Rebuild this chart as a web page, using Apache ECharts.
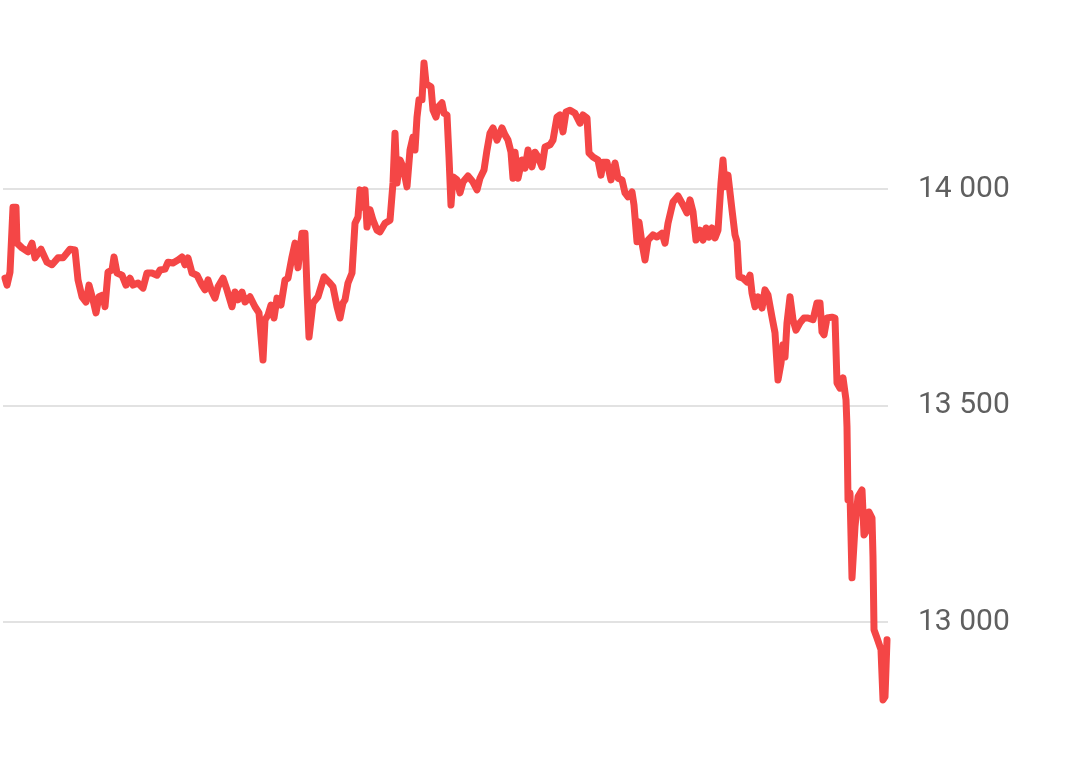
<!DOCTYPE html>
<html>
<head>
<meta charset="utf-8">
<script src="https://cdn.jsdelivr.net/npm/echarts@6/dist/echarts.min.js"></script>
<style>
  html, body { margin: 0; padding: 0; background: #fff; }
  #myChart { width: 1080px; height: 772px; }
</style>
</head>
<body>
<div id="myChart"></div>
<script>
// time index of each sample
let t = [5,7,10,13,16,17,22,28,32,35,41,47,52,58,63,70,75,78,82,86,89,93,96,99,103,105,108,112,114,117,122,126,130,133,138,143,147,152,157,160,165,168,173,178,182,185,188,192,197,202,205,208,212,215,218,223,227,232,235,238,242,245,250,255,259,263,265,268,271,274,277,281,285,288,292,295,298,302,305,307,309,313,318,324,329,333,337,340,343,345,348,352,355,358,360,363,365,367,370,373,377,380,385,390,393,395,397,400,403,407,410,413,415,417,419,422,424,426,428,431,433,436,438,442,444,447,449,451,453,457,460,463,468,473,477,480,484,487,490,493,497,502,505,508,511,513,515,518,522,525,528,532,535,538,542,545,550,553,557,560,563,566,570,575,580,583,587,589,593,598,601,603,607,611,615,618,622,625,628,632,634,637,639,642,645,648,653,657,662,665,668,673,678,680,683,687,690,693,696,700,703,706,709,712,715,718,721,723,725,728,732,735,737,739,743,747,750,752,755,758,762,765,768,772,775,778,781,783,785,787,790,793,796,800,804,808,813,817,820,822,824,827,832,835,837,840,843,846,847,848,850,852,855,858,862,864,867,869,872,873,874,877,881,883,885,887];
// index level
let price = [13794,13778,13808,13958,13958,13875,13864,13855,13875,13841,13861,13831,13825,13841,13841,13861,13859,13790,13751,13739,13778,13744,13714,13751,13755,13728,13808,13813,13843,13806,13801,13778,13794,13778,13783,13771,13806,13806,13801,13813,13815,13831,13829,13836,13843,13825,13841,13806,13801,13778,13767,13790,13762,13748,13774,13794,13767,13728,13762,13744,13762,13739,13751,13728,13714,13605,13698,13709,13732,13702,13748,13732,13790,13794,13843,13875,13818,13898,13898,13767,13658,13737,13751,13797,13785,13774,13728,13702,13737,13744,13783,13806,13921,13935,13998,13958,13998,13912,13952,13928,13905,13901,13921,13928,14014,14129,14014,14067,14051,14005,14090,14120,14090,14166,14206,14206,14291,14245,14240,14236,14182,14166,14189,14199,14175,14171,14074,13963,14028,14021,13991,14016,14030,14016,13998,14025,14044,14090,14129,14141,14113,14141,14125,14113,14085,14025,14085,14025,14067,14048,14090,14051,14085,14074,14051,14097,14102,14113,14166,14171,14132,14178,14182,14175,14152,14171,14164,14083,14074,14067,14032,14062,14062,14021,14060,14025,14021,13991,13982,13993,13963,13878,13924,13875,13836,13882,13894,13889,13898,13875,13921,13970,13984,13986,13963,13945,13975,13947,13882,13905,13882,13910,13889,13910,13887,13905,14014,14067,14005,14032,13952,13894,13878,13797,13794,13785,13801,13760,13728,13751,13725,13767,13755,13704,13668,13559,13598,13640,13612,13691,13751,13698,13674,13691,13702,13702,13698,13737,13737,13670,13663,13702,13704,13702,13552,13540,13564,13513,13450,13282,13298,13102,13220,13289,13305,13201,13213,13254,13240,13150,12982,12963,12936,12820,12827,12959];

// y axis range / step
let yMin = 12500;
let yMax = 14500;
let yStep = 500;

let seriesData = t.map((x, i) => [x, price[i]]);

let chart = echarts.init(document.getElementById('myChart'));
let option = {
  animation: false,
  grid: {
    left: 3,
    right: 192,
    top: -27.5,
    bottom: -66.5,
    containLabel: false,
    outerBoundsMode: 'none'
  },
  xAxis: {
    type: 'value',
    min: 3,
    max: 888,
    show: false
  },
  yAxis: {
    type: 'value',
    position: 'right',
    min: yMin,
    max: yMax,
    interval: yStep,
    axisLine: { show: false },
    axisTick: { show: false },
    splitLine: {
      lineStyle: { color: '#e2e2e2', width: 2 }
    },
    axisLabel: {
      margin: 30,
      fontSize: 30,
      fontFamily: 'Roboto',
      color: '#5f5f5f',
      formatter: v => String(v).replace(/\B(?=(\d{3})+(?!\d))/g, ' ')
    }
  },
  series: [{
    type: 'line',
    data: seriesData,
    showSymbol: false,
    symbol: 'none',
    lineStyle: {
      color: '#f44646',
      width: 7,
      cap: 'round',
      join: 'round'
    }
  }]
};
chart.setOption(option);
</script>
</body>
</html>
